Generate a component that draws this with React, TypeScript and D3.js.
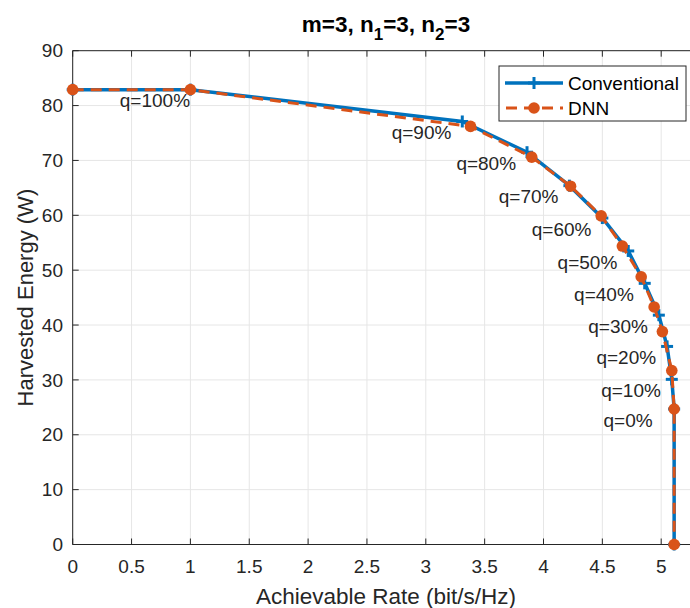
import React from "react";
import * as d3 from "d3";

const convX = [0, 1.0, 3.31, 3.86, 4.22, 4.5, 4.72, 4.86, 4.98, 5.05, 5.09, 5.11, 5.11];
const convY = [82.9, 82.9, 77.1, 71.5, 65.4, 59.5, 53.5, 47.6, 41.8, 36.1, 30.1, 24.7, 0];
const dnnX = [0, 1.0, 3.38, 3.9, 4.23, 4.49, 4.67, 4.83, 4.94, 5.01, 5.09, 5.11, 5.11];
const dnnY = [82.9, 82.9, 76.2, 70.6, 65.3, 59.9, 54.4, 48.8, 43.3, 38.8, 31.7, 24.7, 0];
const qLabels = ["q=100%", "q=90%", "q=80%", "q=70%", "q=60%", "q=50%", "q=40%", "q=30%", "q=20%", "q=10%", "q=0%"];
const xTicks = [0, 0.5, 1, 1.5, 2, 2.5, 3, 3.5, 4, 4.5, 5];
const yTicks = [0, 10, 20, 30, 40, 50, 60, 70, 80, 90];
const seriesNames = ["Conventional", "DNN"];

const BLUE = "#0072BD";
const ORANGE = "#D95319";
const AX = "#262626";
const FONT = "'Liberation Sans', Arial, Helvetica, sans-serif";

export default function App() {
  const W = 690, H = 608;
  const left = 72.7, top = 50.7, bottom = 544.5;
  const x = d3.scaleLinear().domain([0, 5.33]).range([left, left + 5.33 * 117.7]);
  const y = d3.scaleLinear().domain([0, 90]).range([bottom, top]);
  const right = x(5.33);

  const conv = convX.map((v, i) => [v, convY[i]] as [number, number]);
  const dnn = dnnX.map((v, i) => [v, dnnY[i]] as [number, number]);
  const line = d3.line<[number, number]>().x(d => x(d[0])).y(d => y(d[1]));

  const plus = (cx: number, cy: number, k: string | number) => (
    <g key={k} stroke={BLUE} strokeWidth={3}>
      <line x1={cx - 6} x2={cx + 6} y1={cy} y2={cy} />
      <line x1={cx} x2={cx} y1={cy - 6} y2={cy + 6} />
    </g>
  );

  return (
    <svg width={W} height={H} style={{ position: "absolute", left: 0, top: 0 }} fontFamily={FONT}>
      <rect x={0} y={0} width={W} height={H} fill="#fff" />
      {xTicks.map(t => (
        <line key={"gx" + t} x1={x(t)} x2={x(t)} y1={top} y2={bottom} stroke="#e6e6e6" strokeWidth={1} />
      ))}
      {yTicks.map(t => (
        <line key={"gy" + t} x1={left} x2={right} y1={y(t)} y2={y(t)} stroke="#e6e6e6" strokeWidth={1} />
      ))}
      <line x1={left} x2={right} y1={bottom} y2={bottom} stroke={AX} strokeWidth={1} />
      <line x1={left} x2={right} y1={top} y2={top} stroke={AX} strokeWidth={1} />
      <line x1={left} x2={left} y1={top} y2={bottom} stroke={AX} strokeWidth={1} />
      <line x1={right} x2={right} y1={top} y2={bottom} stroke={AX} strokeWidth={1} />
      {xTicks.map(t => (
        <g key={"tx" + t}>
          <line x1={x(t)} x2={x(t)} y1={bottom} y2={bottom - 6} stroke={AX} />
          <line x1={x(t)} x2={x(t)} y1={top} y2={top + 6} stroke={AX} />
          <text x={x(t)} y={573} fontSize={19} textAnchor="middle" fill={AX}>{String(t)}</text>
        </g>
      ))}
      {yTicks.map(t => (
        <g key={"ty" + t}>
          <line x1={left} x2={left + 6} y1={y(t)} y2={y(t)} stroke={AX} />
          <line x1={right} x2={right - 6} y1={y(t)} y2={y(t)} stroke={AX} />
          <text x={63} y={y(t)} dy="0.35em" fontSize={19} textAnchor="end" fill={AX}>{String(t)}</text>
        </g>
      ))}
      <path d={line(conv) || ""} fill="none" stroke={BLUE} strokeWidth={3.5} />
      {conv.map((d, i) => plus(x(d[0]), y(d[1]), "p" + i))}
      <path d={line(dnn) || ""} fill="none" stroke={ORANGE} strokeWidth={3} strokeDasharray="11,7" />
      {dnn.map((d, i) => (
        <circle key={"c" + i} cx={x(d[0])} cy={y(d[1])} r={5.8} fill={ORANGE} />
      ))}
      {qLabels.map((s, i) => (
        <text key={"q" + s} x={x(convX[i + 1] - 0.6)} y={y(convY[i + 1] - 2)} dy="0.35em" fontSize={19} fill={AX}>{s}</text>
      ))}
      <text x={386} y={604} fontSize={22.5} textAnchor="middle" fill={AX}>Achievable Rate (bit/s/Hz)</text>
      <text transform={`translate(33,${(top + bottom) / 2}) rotate(-90)`} fontSize={22} textAnchor="middle" fill={AX}>Harvested Energy (W)</text>
      <text x={386} y={32} fontSize={22.5} fontWeight="bold" textAnchor="middle" fill="#000">
        m=3, n<tspan fontSize={17} dy={8}>1</tspan><tspan dy={-8}>=3, n</tspan><tspan fontSize={17} dy={8}>2</tspan><tspan dy={-8}>=3</tspan>
      </text>
      <g>
        <rect x={499} y={66} width={187} height={55} fill="#fff" stroke={AX} strokeWidth={1} />
        <line x1={505} x2={563} y1={83} y2={83} stroke={BLUE} strokeWidth={3.5} />
        {plus(534, 83, "lp")}
        <text x={568} y={83} dy="0.35em" fontSize={19} fill="#000">{seriesNames[0]}</text>
        <line x1={505} x2={563} y1={108} y2={108} stroke={ORANGE} strokeWidth={3} strokeDasharray="11,7" strokeDashoffset={-1} />
        <circle cx={534} cy={108} r={5.8} fill={ORANGE} />
        <text x={568} y={108} dy="0.35em" fontSize={19} fill="#000">{seriesNames[1]}</text>
      </g>
    </svg>
  );
}
